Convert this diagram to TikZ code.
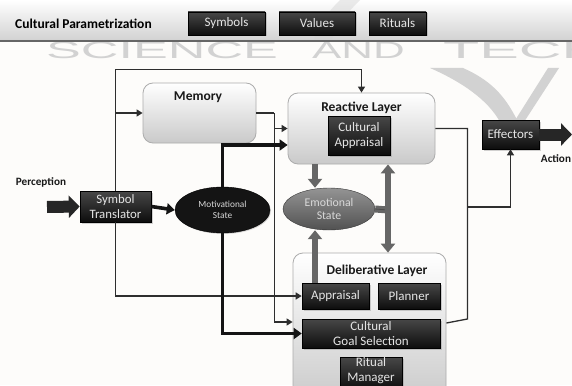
\documentclass[tikz,border=0pt]{standalone}
\usepackage{fontspec}
\setmainfont{Carlito}
\newfontfamily\wmfont{Liberation Sans}
\usetikzlibrary{arrows.meta,shapes.geometric,shadows}
\definecolor{bgc}{HTML}{FDFCFA}
\definecolor{wmc}{HTML}{D2D2D2}
\definecolor{linec}{HTML}{2E2E2E}
\definecolor{grayar}{HTML}{666666}
\begin{document}
\begin{tikzpicture}[x=1pt,y=-1pt,
  layer/.style={draw=gray!65, line width=0.8pt, rounded corners=10pt, top color=white, bottom color=gray!42, inner sep=0pt},
  blk/.style={draw=black, line width=0.6pt, top color=black!72, bottom color=black!95, text=white!90!black, align=center, inner sep=0pt, font=\fontsize{13}{15}\selectfont, drop shadow={opacity=0.35,shadow xshift=1.5pt,shadow yshift=-1.5pt}},
  ttl/.style={font=\bfseries\fontsize{13.5}{15}\selectfont, text=black!90, inner sep=0pt},
  lbl/.style={font=\bfseries\fontsize{11.2}{13}\selectfont, text=black!90, inner sep=0pt},
  wire/.style={draw=linec, line width=1.3pt},
  thinar/.style={wire, -{Triangle[length=6pt,width=7pt]}},
  fat/.style={draw=black!92, line width=3.6pt, -{Triangle[length=8pt,width=11pt]}},
  grayarr/.style={draw=grayar, line width=6pt, -{Triangle[length=9pt,width=14pt]}},
  blockar/.style={draw=black!85, line width=12pt, -{Triangle[length=11pt,width=22pt]}},
  wm/.style={text=wmc, font=\wmfont\fontsize{23.7}{24}\selectfont, anchor=base west, inner sep=0pt}
]
\useasboundingbox (0,0) rectangle (572,385);
\clip (0,0) rectangle (572,385);
\fill[bgc] (0,0) rectangle (572,385);

% watermark
\node[wm] (wm1) at (46,59) {\scalebox{2.2}[1]{SCIENCE}};
\node[wm] (wm2) at (312,59) {\scalebox{1.85}[1]{AND}};
\node[wm] (wm3) at (443,59) {\scalebox{2.5}[1]{TECH}};
\fill[wmc] (430,68) .. controls (462,82) and (488,100) .. (500,122) -- (518,122) .. controls (505,95) and (490,80) .. (463,68) -- cycle;
\fill[wmc] (548,68) -- (559,68) -- (524,122) -- (514,122) -- cycle;

% top band
\shade[top color=white, bottom color=gray!35] (0,0) rectangle (572,40);
\fill[wmc, opacity=0.45] (340,0) -- (360,0) .. controls (345,15) and (335,28) .. (332,40) -- (314,40) .. controls (318,25) and (328,12) .. cycle;
\draw[line width=1.6pt, black!60] (0,41) -- (572,41);
\node[font=\bfseries\fontsize{13.5}{15}\selectfont, anchor=west, inner sep=0pt] (cp) at (15,24) {Cultural Parametrization};
\node[blk, minimum width=77pt, minimum height=23pt] (sym) at (226.5,23.5) {Symbols};
\node[blk, minimum width=76pt, minimum height=23pt] (val) at (317,23.5) {Values};
\node[blk, minimum width=57pt, minimum height=23pt] (rit) at (397.5,23.5) {Rituals};

% layer boxes
\node[layer, minimum width=113pt, minimum height=60pt] (mem) at (199.5,113) {};
\node[ttl] (memt) at (198,97) {Memory};
\node[layer, minimum width=147pt, minimum height=71pt] (react) at (361.5,128.5) {};
\node[ttl] (reactt) at (361.5,108) {Reactive Layer};
\node[blk, minimum width=62pt, minimum height=39pt] (ca) at (359,135.5) {Cultural\\Appraisal};
\node[layer, minimum width=153pt, minimum height=150pt] (delib) at (369.5,328) {};
\node[ttl] (delibt) at (377,271) {Deliberative Layer};
\node[blk, minimum width=67pt, minimum height=26pt] (app) at (335.5,296) {Appraisal};
\node[blk, minimum width=62pt, minimum height=26pt] (plan) at (409,296) {Planner};
\node[blk, minimum width=138pt, minimum height=29pt] (cgs) at (371,333.5) {Cultural\\Goal Selection};
\node[blk, minimum width=62pt, minimum height=33pt] (rm) at (371,373.5) {};
\node[align=center, inner sep=0pt, text=white!90!black, font=\fontsize{13}{15}\selectfont] (rmt) at (371,370.5) {Ritual\\Manager};

% other nodes
\node[blk, minimum width=71pt, minimum height=31pt, font=\fontsize{12.8}{14.5}\selectfont] (st) at (115.5,206.5) {Symbol\\Translator};
\node[blk, minimum width=57pt, minimum height=29pt] (eff) at (510.5,134.5) {Effectors};
\node[ellipse, draw=black, fill=black!92, minimum width=95pt, minimum height=46pt, inner sep=0pt, text=white!85!black, align=center, font=\fontsize{9.3}{11}\selectfont, drop shadow={opacity=0.3,shadow xshift=1pt,shadow yshift=-1pt}] (mot) at (222.5,210) {Motivational\\State};
\node[ellipse, draw=black!80, top color=black!42, bottom color=black!68, minimum width=92pt, minimum height=42pt, inner sep=0pt, text=white!85!black, align=center, font=\fontsize{11.8}{13}\selectfont] (emo) at (329,209) {Emotional\\State};

\node[lbl] (perc) at (41,182) {Perception};
\node[lbl] (act) at (556,159) {Action};
\coordinate (pin) at (47,207);
\coordinate (pout) at (572,134.5);

% block arrows
\draw[blockar] (pin) -- (st.west);
\draw[blockar] (eff.east) -- (pout);

% thin connectors
\draw[thinar] (st.north) -- ++(0,-121) -| (react.north);
\draw[thinar] (st.north |- mem.west) -- (mem.west);
\draw[thinar] (st.south) |- (app.west);
\draw[wire] (mem.east) -- ++(18,0) coordinate (mj);
\draw[thinar] (mj) |- (react.west);
\draw[thinar] (mj) |- ([yshift=6pt]delib.west);
\draw[wire] (react.east) -- ++(32,0) coordinate (rj) -- (rj |- 0,319) -- ([yshift=5pt]delib.east);
\draw[thinar] (rj |- 0,207) -| (eff.south);

% fat connectors
\draw[fat] (st.east) -- (mot.west);
\draw[fat] (mot.north) |- ([yshift=-16.5pt]react.west);
\draw[fat] (mot.south) |- (cgs.west);

% gray connectors
\coordinate (ex) at (315,0);
\coordinate (ej) at (388,210);
\draw[grayarr] (react.south -| ex) -- (emo.north -| ex);
\draw[grayarr] (app.north -| ex) -- (emo.south -| ex);
\draw[draw=grayar, line width=7pt] (emo.east) -- (ej);
\draw[black!70, line width=0.8pt] (emo.east) -- (ej);
\draw[grayarr] (ej) -- (react.south -| ej);
\draw[grayarr] (ej) -- (delib.north -| ej);
\end{tikzpicture}
\end{document}
